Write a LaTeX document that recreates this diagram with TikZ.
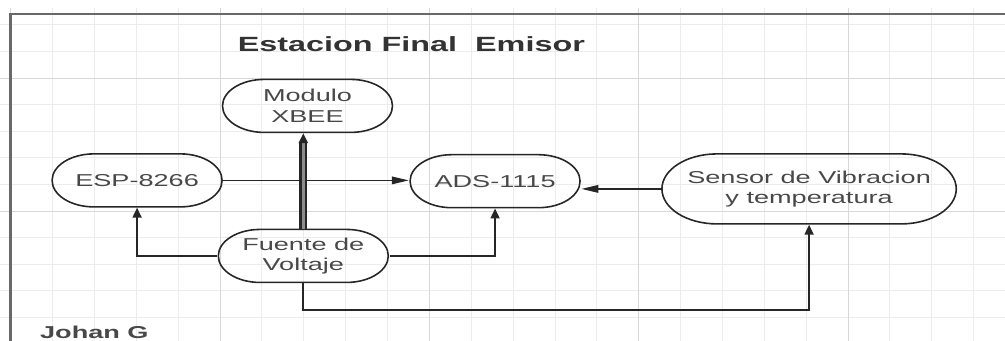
\documentclass[tikz,border=0pt]{standalone}
\usepackage{fontspec}
\setmainfont{Liberation Sans}
\usetikzlibrary{arrows.meta,shapes.misc}
\definecolor{gridminor}{RGB}{236,236,236}
\definecolor{gridmajor}{RGB}{216,216,216}
\definecolor{framegray}{RGB}{105,105,105}
\definecolor{inkgray}{RGB}{72,72,72}

\begin{document}
\begin{tikzpicture}[x=.8374cm,y=.532cm,
  every node/.style={xscale=1.574,inner sep=0pt,text=inkgray},
  unit/.style={draw=black!85,line width=.9pt,rounded rectangle,minimum width=2.16cm,minimum height=1.06cm,align=center,font=\fontsize{9.8}{11.6}\selectfont},
  hto/.style={-{Triangle[length=.34cm,width=.15cm]}},
  vto/.style={-{Triangle[length=.2cm,width=.18cm]}},
  wire/.style={line width=1pt,black!85}]
  \useasboundingbox (-.254,.113) rectangle (23.749,12.932);
  % grid paper
  \foreach \i in {0,...,23} \draw[gridminor,line width=.5pt] (\i,.113) -- (\i,12.63);
  \foreach \j in {1,...,12} \draw[gridminor,line width=.5pt] (-.254,\j) -- (23.749,\j);
  \foreach \i in {0,5,...,20} \draw[gridmajor,line width=.5pt] (\i,.113) -- (\i,12.63);
  \foreach \j in {5,10} \draw[gridmajor,line width=.5pt] (-.254,\j) -- (23.749,\j);
  \draw[framegray,line width=1.3pt] (0,.113) -- (0,12.41) -- (23.749,12.41);

  \node[font=\fontsize{11.7}{14}\selectfont\bfseries,text=black!80,anchor=base] (titulo) at (9.57,10.98) {Estacion Final\ \ Emisor};
  \node[font=\fontsize{9.8}{12}\selectfont\bfseries,anchor=base] (autor) at (2.0,.19) {Johan G};

  \node[unit] (xbee) at (7.09,8.95) {Modulo\\XBEE};
  \node[unit] (esp) at (3.02,6.15) {ESP-8266};
  \node[unit] (ads) at (11.57,6.12) {ADS-1115};
  \node[unit,minimum width=3.74cm,minimum height=1.4cm] (sensor) at (19.07,5.83) {Sensor de Vibracion\\y temperatura};
  \node[unit] (fuente) at (6.99,3.31) {Fuente de\\Voltaje};

  \draw[wire,hto] (esp.east) -- (esp.east -| ads.west);
  \draw[wire,hto] (sensor.west) -- (sensor.west -| ads.east);
  \draw[wire,vto] (fuente.west) -| (esp.south);
  \draw[wire,vto] (fuente.east) -| (ads.south);
  \draw[wire,vto] (fuente.south) -- ++(0,-1) -| (sensor.south);
  \draw[wire,vto,line width=1.2pt,double=black!45,double distance=2pt] (fuente.north) -- (fuente.north |- xbee.south);
\end{tikzpicture}
\end{document}
